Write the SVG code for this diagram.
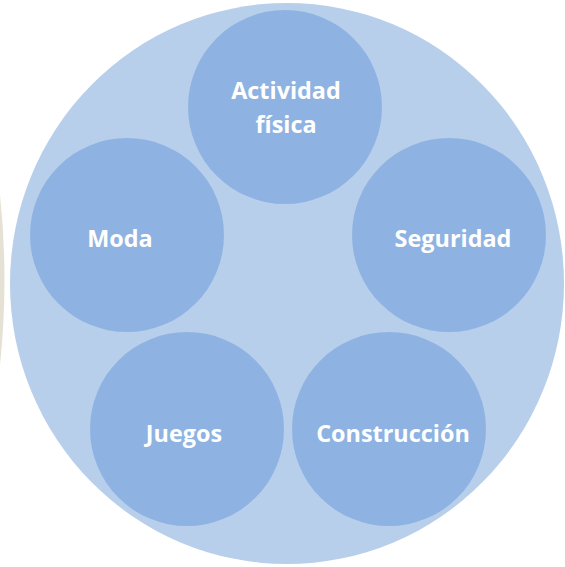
<svg xmlns="http://www.w3.org/2000/svg" width="565" height="567" viewBox="0 0 565 567">
<style>
.node{fill:#8eb3e2}
.lbl{font-family:"Open Sans","Liberation Sans",sans-serif;font-weight:bold;font-size:23.4px;fill:#ffffff;text-anchor:middle}
</style>
<rect width="565" height="567" fill="#ffffff"/>
<path d="M0,195 Q9,280 0,365 Z" fill="#e5e1d5"/>
<ellipse id="outer" cx="287" cy="283.5" rx="277" ry="280.5" fill="#b8cfec"/>
<g id="connectors"></g>
<g id="n-actividad"><circle class="node" cx="285" cy="107" r="97"/><text class="lbl" x="286" y="99">Actividad</text><text class="lbl" x="286" y="133">física</text></g>
<g id="n-moda"><circle class="node" cx="127" cy="235" r="97"/><text class="lbl" x="120" y="247">Moda</text></g>
<g id="n-seguridad"><circle class="node" cx="449" cy="235" r="97"/><text class="lbl" x="453" y="247">Seguridad</text></g>
<g id="n-juegos"><circle class="node" cx="187" cy="429" r="97"/><text class="lbl" x="184" y="442">Juegos</text></g>
<g id="n-construccion"><circle class="node" cx="389" cy="429" r="97"/><text class="lbl" x="393" y="442">Construcción</text></g>
</svg>
